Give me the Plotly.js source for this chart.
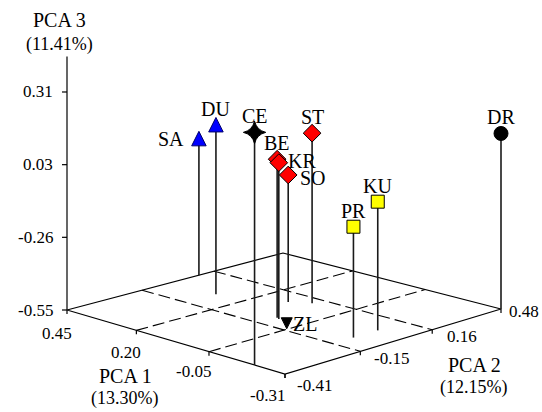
<!DOCTYPE html>
<html><head><meta charset="utf-8">
<script src="https://cdn.plot.ly/plotly-3.0.1.min.js"></script>
<style>html,body{margin:0;padding:0;background:#fff}#chart{width:542px;height:412px}</style>
</head><body><div id="chart"></div>
<script>
// ---------------- data ----------------
const labels = ['SA', 'DU', 'CE', 'BE', 'KR', 'SO', 'ST', 'PR', 'KU', 'DR', 'ZL'];
const group  = ['A', 'A', 'B', 'C', 'C', 'C', 'C', 'D', 'D', 'E', 'F'];
const pca1   = [0.45, 0.29, -0.21, 0.03, 0.02, 0.11, 0.06, -0.22, -0.22, -0.31, -0.02];
const pca2   = [0.12, 0.01, -0.41, -0.04, -0.045, 0.10, 0.14, -0.03, 0.07, 0.48, -0.06];
const pca3   = [0.01, 0.13, 0.315, 0.07, 0.06, -0.045, 0.125, -0.126, -0.054, 0.142, -0.55];

const pca1TickVals = [0.45, 0.1967, -0.0567, -0.31];
const pca1TickText = ['0.45', '0.20', '-0.05', '-0.31'];
const pca2TickVals = [-0.41, -0.1133, 0.1833, 0.48];
const pca2TickText = ['-0.41', '-0.15', '0.16', '0.48'];
const pca3TickVals = [-0.55, -0.2633, 0.0233, 0.31];
const pca3TickText = ['-0.55', '-0.26', '0.03', '0.31'];

const pca1Title = ['PCA 1', '(13.30%)'];
const pca2Title = ['PCA 2', '(12.15%)'];
const pca3Title = ['PCA 3', '(11.41%)'];

// ---------------- geometry / style ----------------
const range1 = [0.45, -0.31];
const range2 = [-0.41, 0.48];
const range3 = [-0.55, 0.45];
const corners = { p00: [67, 310], p10: [285, 374], p11: [501, 309], p01: [283, 253] };
const zPx = 253.5;
const pca1LabelShift = [[7, -23], [7, -22], [4, -20], [2, -21]];
const pca2LabelShift = [[10, -11], [12, -7], [13, -7], [6, -2]];

function homography(c) {
  const [x0, y0] = c.p00, [x1, y1] = c.p10, [x2, y2] = c.p11, [x3, y3] = c.p01;
  const dx1 = x1 - x2, dx2 = x3 - x2, dx3 = x0 - x1 + x2 - x3;
  const dy1 = y1 - y2, dy2 = y3 - y2, dy3 = y0 - y1 + y2 - y3;
  const den = dx1 * dy2 - dy1 * dx2;
  const g = (dx3 * dy2 - dy3 * dx2) / den, h = (dx1 * dy3 - dy1 * dx3) / den;
  return { a: x1 - x0 + g * x1, b: x3 - x0 + h * x3, c: x0,
           d: y1 - y0 + g * y1, e: y3 - y0 + h * y3, f: y0, g: g, h: h };
}
const H = homography(corners);
function proj(p1, p2, p3) {
  const u = (p1 - range1[0]) / (range1[1] - range1[0]);
  const v = (p2 - range2[0]) / (range2[1] - range2[0]);
  const D = H.g * u + H.h * v + 1;
  return [(H.a * u + H.b * v + H.c) / D, (H.d * u + H.e * v + H.f - zPx * (p3 - range3[0])) / D];
}

const styles = {
  A: { symbol: 'arrow-down', angle: 180, size: 14.5, color: '#0000ff', line: '#00006a' },
  B: { symbol: 'star-diamond', angle: 0, size: 16, color: '#000000', line: '#000000' },
  C: { symbol: 'diamond', angle: 0, size: 13.6, color: '#ff0000', line: '#000000' },
  D: { symbol: 'square', angle: 0, size: 13, color: '#ffff00', line: '#000000' },
  E: { symbol: 'circle', angle: 0, size: 14, color: '#000000', line: '#000000' },
  F: { symbol: 'arrow-down', angle: 0, size: 11, color: '#000000', line: '#000000' }
};
// label placement relative to marker: [xanchor, xshift, yshift]
const labelPlace = {
  SA: ['right', -13, 0], KR: ['left', 7, 2], SO: ['left', 10, -3], ZL: ['left', 4, -1]
};

const serif = '"Liberation Serif", "Times New Roman", serif';
const traces = [];
const zmin = range3[0];

// dashed floor grid
const gx = [], gy = [];
pca1TickVals.slice(1, -1).forEach(t => {
  const a = proj(t, range2[0], zmin), b = proj(t, range2[1], zmin);
  gx.push(a[0], b[0], null); gy.push(a[1], b[1], null);
});
pca2TickVals.slice(1, -1).forEach(t => {
  const a = proj(range1[0], t, zmin), b = proj(range1[1], t, zmin);
  gx.push(a[0], b[0], null); gy.push(a[1], b[1], null);
});
traces.push({ x: gx, y: gy, mode: 'lines', line: { color: '#000', width: 1.1, dash: '12px,5px' }, hoverinfo: 'skip' });

// floor edges, vertical axis, ticks
const ex = [], ey = [];
[[range1[0], range2[0]], [range1[1], range2[0]], [range1[1], range2[1]], [range1[0], range2[1]], [range1[0], range2[0]]]
  .forEach(c => { const p = proj(c[0], c[1], zmin); ex.push(p[0]); ey.push(p[1]); });
ex.push(null); ey.push(null);
const vb = proj(range1[0], range2[0], range3[0]), vt = proj(range1[0], range2[0], range3[1]);
ex.push(vb[0], vt[0], null); ey.push(vb[1], vt[1], null);
pca3TickVals.forEach(t => { const p = proj(range1[0], range2[0], t); ex.push(p[0] - 5, p[0], null); ey.push(p[1], p[1], null); });
pca1TickVals.forEach(t => { const p = proj(t, range2[0], zmin); ex.push(p[0], p[0], null); ey.push(p[1], p[1] + 4, null); });
pca2TickVals.forEach(t => { const p = proj(range1[1], t, zmin); ex.push(p[0], p[0], null); ey.push(p[1], p[1] + 4, null); });
traces.push({ x: ex, y: ey, mode: 'lines', line: { color: '#000', width: 1.2 }, hoverinfo: 'skip' });

// stems
const sx = [], sy = [];
labels.forEach((l, i) => {
  const a = proj(pca1[i], pca2[i], zmin), b = proj(pca1[i], pca2[i], pca3[i]);
  sx.push(a[0], b[0], null); sy.push(a[1], b[1], null);
});
traces.push({ x: sx, y: sy, mode: 'lines', line: { color: '#1a1a1a', width: 1.6 }, hoverinfo: 'skip' });

// markers
const mp = labels.map((l, i) => proj(pca1[i], pca2[i], pca3[i]));
traces.push({
  x: mp.map(p => p[0]), y: mp.map(p => p[1]), mode: 'markers', text: labels, hoverinfo: 'text',
  marker: {
    opacity: 1,
    symbol: group.map(g => styles[g].symbol),
    angle: group.map(g => styles[g].angle),
    standoff: group.map(g => (styles[g].symbol.indexOf('arrow') === 0 ? styles[g].size / 2 : 0)),
    size: group.map(g => styles[g].size),
    color: group.map(g => styles[g].color),
    line: { color: group.map(g => styles[g].line), width: 1 }
  }
});

// annotations
const ann = [];
labels.forEach((l, i) => {
  const p = mp[i], place = labelPlace[l] || ['center', 0, 16];
  ann.push({ x: p[0], y: p[1], text: l, showarrow: false, xanchor: place[0], yanchor: 'middle',
    xshift: place[1], yshift: place[2], font: { family: serif, size: 20, color: '#000' } });
});
const tickFont = { family: serif, size: 17, color: '#000' };
pca3TickVals.forEach((t, i) => {
  const p = proj(range1[0], range2[0], t);
  ann.push({ x: p[0], y: p[1], text: pca3TickText[i], showarrow: false, xanchor: 'right', yanchor: 'middle', xshift: -12, font: tickFont });
});
pca1TickVals.forEach((t, i) => {
  const p = proj(t, range2[0], zmin);
  ann.push({ x: p[0], y: p[1], text: pca1TickText[i], showarrow: false, xanchor: 'right', yanchor: 'middle',
    xshift: pca1LabelShift[i][0], yshift: pca1LabelShift[i][1], font: tickFont });
});
pca2TickVals.forEach((t, i) => {
  const p = proj(range1[1], t, zmin);
  ann.push({ x: p[0], y: p[1], text: pca2TickText[i], showarrow: false, xanchor: 'left', yanchor: 'middle',
    xshift: pca2LabelShift[i][0], yshift: pca2LabelShift[i][1], font: tickFont });
});
const tFont = { family: serif, size: 20, color: '#000' }, sFont = { family: serif, size: 18, color: '#000' };
const top3 = proj(range1[0], range2[0], range3[1]);
ann.push({ x: top3[0], y: top3[1], text: pca3Title[0], showarrow: false, xanchor: 'center', yanchor: 'middle', xshift: -8, yshift: 37, font: tFont });
ann.push({ x: top3[0], y: top3[1], text: pca3Title[1], showarrow: false, xanchor: 'center', yanchor: 'middle', xshift: -8, yshift: 12, font: sFont });
const mid1 = proj((range1[0] + range1[1]) / 2, range2[0], zmin);
ann.push({ x: mid1[0], y: mid1[1], text: pca1Title[0], showarrow: false, xanchor: 'center', yanchor: 'middle', xshift: -47, yshift: -35, font: tFont });
ann.push({ x: mid1[0], y: mid1[1], text: pca1Title[1], showarrow: false, xanchor: 'center', yanchor: 'middle', xshift: -48, yshift: -58, font: sFont });
const mid2 = proj(range1[1], (range2[0] + range2[1]) / 2, zmin);
ann.push({ x: mid2[0], y: mid2[1], text: pca2Title[0], showarrow: false, xanchor: 'center', yanchor: 'middle', xshift: 78, yshift: -25, font: tFont });
ann.push({ x: mid2[0], y: mid2[1], text: pca2Title[1], showarrow: false, xanchor: 'center', yanchor: 'middle', xshift: 77, yshift: -47, font: sFont });

const layout = {
  width: 542, height: 412, margin: { l: 0, r: 0, t: 0, b: 0 },
  paper_bgcolor: '#fff', plot_bgcolor: '#fff', showlegend: false,
  font: { family: serif },
  xaxis: { range: [0, 542], visible: false, fixedrange: true },
  yaxis: { range: [412, 0], visible: false, fixedrange: true },
  annotations: ann
};
Plotly.newPlot('chart', traces, layout, { staticPlot: true, displayModeBar: false });
</script></body></html>
